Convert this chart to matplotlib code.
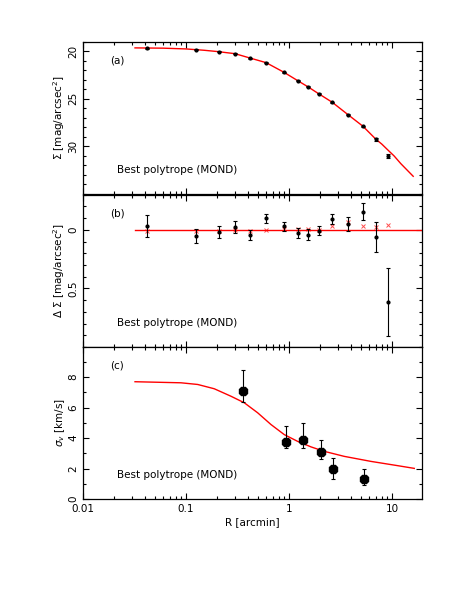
import numpy as np
import matplotlib
matplotlib.use("Agg")
import matplotlib.pyplot as plt
from matplotlib.ticker import FixedLocator, NullFormatter, MultipleLocator, LogLocator

# surface brightness profile (panel a)
r_sb = [0.042, 0.126, 0.211, 0.297, 0.421, 0.594, 0.889, 1.22, 1.52, 1.94,
        2.63, 3.74, 5.23, 6.95, 9.08]
sb = [19.69, 19.86, 20.03, 20.24, 20.73, 21.19, 22.2, 23.11, 23.74, 24.48,
      25.38, 26.68, 27.9, 29.27, 31.05]
sb_err = [0.05, 0.05, 0.05, 0.05, 0.05, 0.05, 0.05, 0.05, 0.05, 0.05,
          0.05, 0.06, 0.07, 0.12, 0.22]

# model curve
r_mod = [0.032, 0.06, 0.1, 0.15, 0.2, 0.3, 0.42, 0.6, 0.89, 1.22, 1.52,
         1.94, 2.63, 3.74, 5.23, 6.95, 8.0, 9.08, 10.5, 12.2, 14.0, 16.1]
sb_mod = [19.65, 19.68, 19.76, 19.9, 20.03, 20.26, 20.72, 21.2, 22.2, 23.1,
          23.72, 24.46, 25.36, 26.66, 27.88, 29.22, 29.77, 30.35, 31.0,
          31.81, 32.47, 33.14]

# residuals (panel b)
dsb = [-0.031, 0.053, 0.017, -0.025, 0.045, -0.098, -0.031, 0.028, 0.042,
       0.008, -0.092, -0.053, -0.156, 0.061, 0.617]
dsb_err = [0.096, 0.06, 0.05, 0.05, 0.04, 0.04, 0.04, 0.04, 0.045, 0.04,
           0.04, 0.06, 0.07, 0.125, 0.29]
dsb_mod = [0.014, 0.01, 0.01, 0.003, 0.008, 0.0, -0.008, -0.005, -0.005,
           0.005, -0.036, -0.07, -0.031, -0.022, -0.039]

# velocity dispersion (panel c)
r_sig = [0.355, 0.94, 1.38, 2.05, 2.69, 5.31]
sig = [7.06, 3.77, 3.88, 3.11, 2.0, 1.29]
sig_lo = [0.66, 0.44, 0.5, 0.48, 0.68, 0.39]
sig_hi = [1.43, 1.03, 1.1, 0.77, 0.68, 0.68]
r_sig_mod = [0.032, 0.0894, 0.13, 0.188, 0.273, 0.368, 0.497, 0.669, 0.90,
             1.21, 1.64, 2.2, 3.44, 6.25, 11.35, 16.5]
sig_mod = [7.70, 7.63, 7.52, 7.24, 6.75, 6.32, 5.66, 4.89, 4.23, 3.79, 3.42,
           3.13, 2.80, 2.47, 2.19, 2.01]

plt.rcParams['font.family'] = ['DejaVu Sans']
fs = 7.5

fig = plt.figure(figsize=(4.63, 5.99), dpi=100)
L, W, H = 83 / 463, 339 / 463, 152.3 / 599
bottoms = [1 - 194 / 599, 1 - 347 / 599, 1 - 499 / 599]
axes = [fig.add_axes([L, b, W, H]) for b in bottoms]

for i, ax in enumerate(axes):
    ax.set_xscale('log')
    ax.set_xlim(0.01, 19.6)
    ax.xaxis.set_major_locator(FixedLocator([0.01, 0.1, 1, 10]))
    ax.xaxis.set_minor_locator(LogLocator(base=10, subs=np.arange(2, 10)))
    ax.xaxis.set_minor_formatter(NullFormatter())
    ax.tick_params(which='both', direction='in', top=True, right=True,
                   labelsize=fs, width=0.8)
    ax.tick_params(which='major', length=4.5)
    ax.tick_params(which='minor', length=2.2)
    for s in ax.spines.values():
        s.set_linewidth(0.9)
    ax.text(0.08, 0.86, ['(a)', '(b)', '(c)'][i],
            transform=ax.transAxes, fontsize=fs)
    ax.text(0.1, 0.14, 'Best polytrope (MOND)', transform=ax.transAxes,
            fontsize=fs)

# panel a
ax = axes[0]
ax.plot(r_mod, sb_mod, color='red', lw=1)
ax.errorbar(r_sb, sb, yerr=sb_err, fmt='o', color='black', ms=2,
            capsize=1.2, elinewidth=0.8, capthick=0.8)
ax.set_ylim(35, 19)
ax.set_yticks([20, 25, 30])
ax.yaxis.set_minor_locator(MultipleLocator(1))
ax.set_ylabel(r'$\Sigma$ [mag/arcsec$^2$]', fontsize=fs, labelpad=1)
ax.set_xticklabels([])

# panel b
ax = axes[1]
ax.plot([r_mod[0], 30], [0, 0], color='red', lw=1)
ax.plot(r_sb, dsb_mod, 'x', color='red', ms=3, mew=0.7, alpha=0.7)
ax.errorbar(r_sb, dsb, yerr=dsb_err, fmt='o', color='black', ms=2,
            capsize=1.2, elinewidth=0.8, capthick=0.8)
ax.set_ylim(1.0, -0.3)
ax.set_yticks([0, 0.5])
ax.set_yticklabels(['0', '0.5'])
ax.yaxis.set_minor_locator(MultipleLocator(0.1))
ax.set_ylabel(r'$\Delta\ \Sigma$ [mag/arcsec$^2$]', fontsize=fs, labelpad=1)
ax.set_xticklabels([])

# panel c
ax = axes[2]
ax.plot(r_sig_mod, sig_mod, color='red', lw=1)
ax.errorbar(r_sig, sig, yerr=[sig_lo, sig_hi], fmt='8', color='black',
            ms=7, capsize=1.6, elinewidth=0.8, capthick=0.8)
ax.set_ylim(0, 10)
ax.set_yticks([0, 2, 4, 6, 8])
ax.yaxis.set_minor_locator(MultipleLocator(1))
ax.set_ylabel(r'$\sigma_v$ [km/s]', fontsize=fs, labelpad=1)
ax.set_xticklabels(['0.01', '0.1', '1', '10'])
ax.set_xlabel('R [arcmin]', fontsize=fs, labelpad=2)

for ax in axes:
    for lab in ax.get_yticklabels():
        lab.set_rotation(90)
        lab.set_va('center')

fig.savefig('out.png', dpi=100)
